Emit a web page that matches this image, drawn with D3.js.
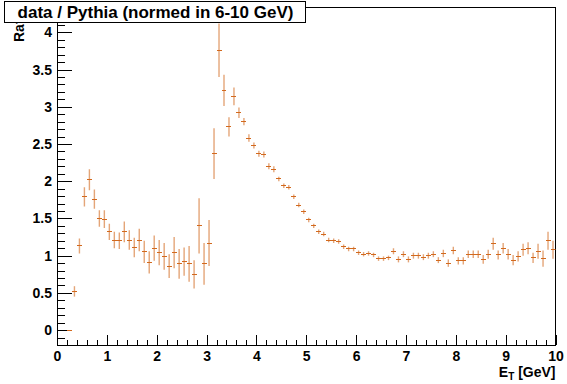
<!DOCTYPE html>
<html>
<head>
<meta charset="utf-8">
<script src="https://cdn.jsdelivr.net/npm/d3@7"></script>
<style>
  body { margin: 0; background: #fff; }
  text { font-family: "Liberation Sans", Arial, Helvetica, sans-serif; font-weight: bold; }
</style>
</head>
<body>
<div id="my_ratio"></div>
<script>
// bin centres (GeV) and the ratio data / Pythia with its errors
var binCenters = [0.25, 0.35, 0.45, 0.55, 0.65, 0.75, 0.85, 0.95, 1.05, 1.15, 1.25, 1.35, 1.45, 1.55, 1.65, 1.75, 1.85, 1.95,
  2.05, 2.15, 2.25, 2.35, 2.45, 2.55, 2.65, 2.75, 2.85, 2.95, 3.05, 3.15, 3.25, 3.35, 3.45, 3.55, 3.65, 3.75, 3.85, 3.95,
  4.05, 4.15, 4.25, 4.35, 4.45, 4.55, 4.65, 4.75, 4.85, 4.95, 5.05, 5.15, 5.25, 5.35, 5.45, 5.55, 5.65, 5.75, 5.85, 5.95,
  6.05, 6.15, 6.25, 6.35, 6.45, 6.55, 6.65, 6.75, 6.85, 6.95, 7.05, 7.15, 7.25, 7.35, 7.45, 7.55, 7.65, 7.75, 7.85, 7.95,
  8.05, 8.15, 8.25, 8.35, 8.45, 8.55, 8.65, 8.75, 8.85, 8.95, 9.05, 9.15, 9.25, 9.35, 9.45, 9.55, 9.65, 9.75, 9.85, 9.95]
var ratioValues = [0.00, 0.52, 1.13, 1.79, 2.02, 1.76, 1.50, 1.49, 1.32, 1.21, 1.20, 1.32, 1.21, 1.11, 1.21, 1.05, 0.91, 1.10,
  1.04, 0.99, 0.86, 1.04, 0.89, 0.92, 0.89, 0.75, 1.40, 0.89, 1.17, 2.37, 3.76, 3.22, 2.73, 3.14, 2.92, 2.80, 2.58, 2.48,
  2.37, 2.36, 2.20, 2.16, 2.03, 1.94, 1.92, 1.79, 1.68, 1.59, 1.48, 1.40, 1.32, 1.29, 1.21, 1.20, 1.19, 1.12, 1.09, 1.09,
  1.04, 1.02, 1.03, 1.01, 0.96, 0.96, 0.97, 1.06, 0.95, 1.02, 0.95, 1.00, 1.00, 0.98, 1.00, 1.02, 0.94, 1.03, 0.90, 1.07,
  0.93, 0.93, 1.02, 1.02, 1.02, 0.95, 1.02, 1.16, 1.01, 1.10, 1.02, 0.94, 0.99, 1.08, 1.10, 0.97, 1.06, 0.96, 1.20, 1.08]
var ratioErrors = [0.00, 0.07, 0.10, 0.13, 0.14, 0.13, 0.11, 0.12, 0.11, 0.11, 0.11, 0.14, 0.13, 0.13, 0.15, 0.15, 0.15, 0.17,
  0.17, 0.18, 0.16, 0.21, 0.20, 0.19, 0.24, 0.19, 0.37, 0.28, 0.31, 0.34, 0.36, 0.21, 0.13, 0.12, 0.07, 0.05, 0.05, 0.04,
  0.04, 0.04, 0.04, 0.04, 0.03, 0.03, 0.03, 0.03, 0.03, 0.03, 0.03, 0.03, 0.03, 0.03, 0.03, 0.03, 0.03, 0.03, 0.03, 0.03,
  0.03, 0.03, 0.03, 0.03, 0.03, 0.03, 0.03, 0.04, 0.04, 0.04, 0.04, 0.04, 0.04, 0.04, 0.04, 0.04, 0.04, 0.05, 0.05, 0.05,
  0.05, 0.05, 0.05, 0.05, 0.05, 0.06, 0.06, 0.08, 0.06, 0.07, 0.07, 0.07, 0.07, 0.08, 0.08, 0.07, 0.10, 0.11, 0.12, 0.12]
var binHalfWidth = 0.05

// axis ticks
var xMajorTicks = [0, 1, 2, 3, 4, 5, 6, 7, 8, 9, 10]
var xMinorTicks = d3.range(0, 10.01, 0.2).filter(function(v) { return Math.abs(v - Math.round(v)) > 0.01 })
var yMajorTicks = [0, 0.5, 1, 1.5, 2, 2.5, 3, 3.5, 4]
var yMinorTicks = d3.range(-0.2, 4.35, 0.1).filter(function(v) { return Math.abs(v * 2 - Math.round(v * 2)) > 0.01 })

var titleText = "data / Pythia (normed in 6-10 GeV)"

// frame in pixels
var W = 567, H = 384
var frame = { left: 57, right: 555.5, top: 7, bottom: 345 }
var markColor = "#d2691e"

var svg = d3.select("#my_ratio")
  .append("svg")
  .attr("width", W)
  .attr("height", H)

var x = d3.scaleLinear().domain([0, 10]).range([frame.left, frame.right])
var y = d3.scaleLinear().domain([-0.2, 4.34]).range([frame.bottom, frame.top])

// ticks: major + minor, drawn inward
svg.append("g")
  .attr("transform", "translate(0," + frame.bottom + ")")
  .call(d3.axisBottom(x).tickValues(xMinorTicks).tickFormat("").tickSize(-5))
svg.append("g")
  .attr("class", "xaxis")
  .attr("transform", "translate(0," + frame.bottom + ")")
  .call(d3.axisBottom(x).tickValues(xMajorTicks).tickFormat(d3.format("d")).tickSize(-10).tickPadding(6))
svg.append("g")
  .attr("transform", "translate(" + frame.left + ",0)")
  .call(d3.axisLeft(y).tickValues(yMinorTicks).tickFormat("").tickSize(-7.5))
svg.append("g")
  .attr("class", "yaxis")
  .attr("transform", "translate(" + frame.left + ",0)")
  .call(d3.axisLeft(y).tickValues(yMajorTicks).tickFormat(function(d) { return d3.format("")(d) }).tickSize(-15).tickPadding(5))

svg.selectAll(".domain").remove()
svg.selectAll(".tick line").attr("stroke", "#000").attr("shape-rendering", "crispEdges")
svg.selectAll(".tick text")
  .attr("fill", "#000")
  .style("font-size", "14px")
  .style("font-family", "'Liberation Sans', Arial, sans-serif")
  .style("font-weight", "bold")

// frame
svg.append("rect")
  .attr("x", frame.left)
  .attr("y", frame.top)
  .attr("width", frame.right - frame.left)
  .attr("height", frame.bottom - frame.top)
  .attr("fill", "none")
  .attr("stroke", "#000")
  .attr("shape-rendering", "crispEdges")

// data points with error bars
var data = binCenters.map(function(c, i) { return { c: c, v: ratioValues[i], e: ratioErrors[i] } })

svg.append("defs").append("clipPath").attr("id", "frameclip")
  .append("rect")
  .attr("x", frame.left).attr("y", frame.top)
  .attr("width", frame.right - frame.left).attr("height", frame.bottom - frame.top)

var pts = svg.append("g").attr("clip-path", "url(#frameclip)")

pts.selectAll(".ebar")
  .data(data.filter(function(d) { return d.e > 0 }))
  .enter()
  .append("line")
    .attr("class", "ebar")
    .attr("x1", function(d) { return x(d.c) })
    .attr("x2", function(d) { return x(d.c) })
    .attr("y1", function(d) { return y(d.v - d.e) })
    .attr("y2", function(d) { return y(d.v + d.e) })
    .attr("stroke", markColor)
    .attr("stroke-opacity", 0.6)
    .attr("stroke-width", 1.4)

pts.selectAll(".hbar")
  .data(data)
  .enter()
  .append("line")
    .attr("class", "hbar")
    .attr("x1", function(d) { return x(d.c - binHalfWidth) })
    .attr("x2", function(d) { return x(d.c + binHalfWidth) })
    .attr("y1", function(d) { return y(d.v) })
    .attr("y2", function(d) { return y(d.v) })
    .attr("stroke", markColor)
    .attr("stroke-width", 1)
    .attr("shape-rendering", "crispEdges")

// axis titles
svg.append("text")
  .attr("text-anchor", "end")
  .attr("transform", "translate(24," + frame.top + ") rotate(-90)")
  .style("font-size", "14px")
  .text("Ratio")

var xt = svg.append("text")
  .attr("x", frame.right)
  .attr("y", 377)
  .attr("text-anchor", "end")
  .style("font-size", "14px")
xt.append("tspan").text("E")
xt.append("tspan").attr("dy", 3).style("font-size", "10px").text("T")
xt.append("tspan").attr("dy", -3).text(" [GeV]")

// title box on top
svg.append("rect")
  .attr("x", 4.5).attr("y", 1.5)
  .attr("width", 301).attr("height", 21)
  .attr("fill", "#fff")
  .attr("stroke", "#000")
svg.append("text")
  .attr("x", 155.5)
  .attr("y", 17.5)
  .attr("text-anchor", "middle")
  .style("font-size", "17px")
  .text(titleText)
</script>
</body>
</html>
